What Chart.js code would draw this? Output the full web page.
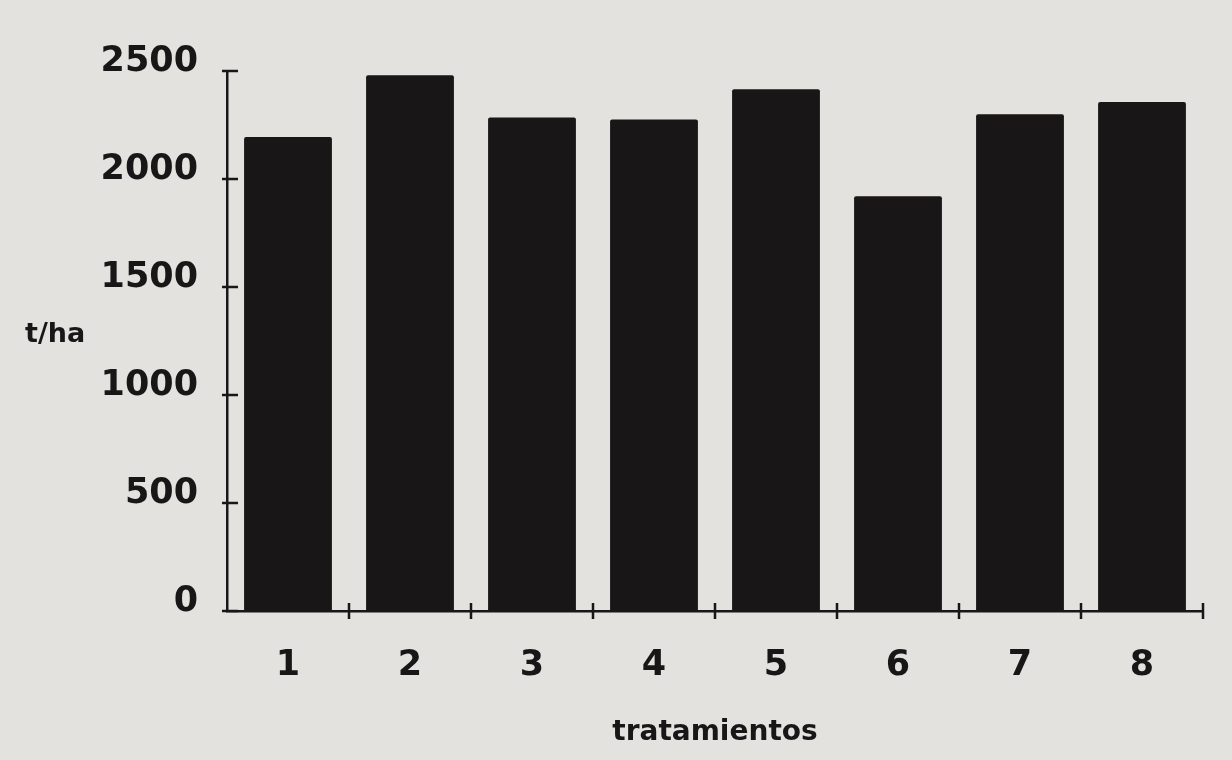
<!DOCTYPE html>
<html>
<head>
<meta charset="utf-8">
<script src="https://cdn.jsdelivr.net/npm/chart.js@4/dist/chart.umd.min.js"></script>
<style>
  html, body { margin: 0; padding: 0; background: #e4e2df; }
  #wrap { width: 1232px; height: 760px; position: relative; }
</style>
</head>
<body>
<div id="wrap"><canvas id="c" width="1232" height="760"></canvas></div>
<script>
// Yield per treatment
const tratamientos = ['1', '2', '3', '4', '5', '6', '7', '8'];
const rendimiento = [2195, 2480, 2285, 2275, 2415, 1920, 2300, 2357];
const yTicks = [0, 500, 1000, 1500, 2000, 2500];

const ink = '#181616';
const fontFamily = '"DejaVu Sans", "Liberation Sans", sans-serif';

// Short tick marks that cross the axis lines, plus the "t/ha" label
const axisMarks = {
  id: 'axisMarks',
  afterDraw(chart) {
    const { ctx, scales: { x, y } } = chart;
    ctx.save();
    ctx.strokeStyle = ink;
    ctx.lineWidth = 2.5;
    ctx.beginPath();
    yTicks.forEach(v => {
      const py = y.getPixelForValue(v);
      ctx.moveTo(x.left - 5, py);
      ctx.lineTo(x.left + 11, py);
    });
    const n = tratamientos.length;
    for (let i = 1; i <= n; i++) {
      const px = x.left + i * (x.width / n);
      ctx.moveTo(px, y.bottom - 8);
      ctx.lineTo(px, y.bottom + 8);
    }
    ctx.stroke();
    ctx.fillStyle = ink;
    ctx.font = 'bold 27px ' + fontFamily;
    ctx.textAlign = 'left';
    ctx.textBaseline = 'middle';
    ctx.fillText('t/ha', 25, 335);
    ctx.restore();
  }
};

new Chart(document.getElementById('c'), {
  type: 'bar',
  data: {
    labels: tratamientos,
    datasets: [{
      data: rendimiento,
      backgroundColor: ink,
      borderWidth: 0,
      borderRadius: 2,
      barPercentage: 0.72,
      categoryPercentage: 1.0
    }]
  },
  options: {
    responsive: false,
    animation: false,
    layout: { padding: { top: 71, right: 29, left: 0, bottom: 0 } },
    plugins: { legend: { display: false }, tooltip: { enabled: false } },
    scales: {
      x: {
        afterFit(s) { s.height = 149; },
        grid: { display: false, drawTicks: false },
        border: { display: true, color: ink, width: 2.5 },
        ticks: {
          color: ink,
          padding: 34,
          font: { family: fontFamily, size: 35, weight: 'bold' }
        },
        title: {
          display: true,
          text: 'tratamientos',
          color: ink,
          font: { family: fontFamily, size: 28, weight: 'bold' },
          padding: { top: 0, bottom: 10 }
        }
      },
      y: {
        min: 0,
        max: 2500,
        afterFit(s) { s.width = 227; },
        afterBuildTicks(s) { s.ticks = yTicks.map(v => ({ value: v })); },
        grid: { display: false, drawTicks: false },
        border: { display: true, color: ink, width: 2.5 },
        ticks: {
          color: ink,
          padding: 29,
          labelOffset: -9,
          callback: v => String(v),
          font: { family: fontFamily, size: 35, weight: 'bold' }
        }
      }
    }
  },
  plugins: [axisMarks]
});
</script>
</body>
</html>
